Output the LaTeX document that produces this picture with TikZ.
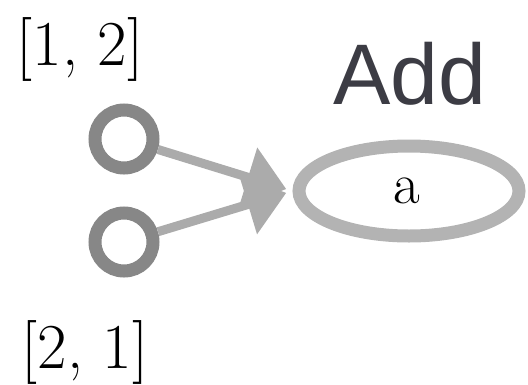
\documentclass[tikz,border=0pt]{standalone}
\usepackage{fontspec}
\newfontfamily\addfont{Liberation Sans}
\usetikzlibrary{shapes.geometric,arrows.meta}
\definecolor{ringgray}{HTML}{878787}
\definecolor{edgegray}{HTML}{ABABAB}
\definecolor{ellgray}{HTML}{B3B3B3}
\definecolor{labeldark}{HTML}{3C3C44}
\tikzset{
  inport/.style={circle, draw=ringgray, line width=13pt, minimum size=58pt, inner sep=0pt},
  opnode/.style={ellipse, draw=ellgray, line width=13pt, minimum width=220pt, minimum height=90pt, inner sep=0pt},
  flow/.style={draw=edgegray, line width=9pt, -{Triangle[length=40pt,width=60pt]}, shorten >=6.5pt},
  vallabel/.style={font=\fontsize{64}{64}\selectfont, inner sep=0pt, anchor=base},
  oplabel/.style={font=\addfont\fontsize{86}{86}\selectfont, text=labeldark, inner sep=0pt, anchor=base}
}
\begin{document}
\begin{tikzpicture}[x=1pt,y=-1pt]
\useasboundingbox (0,0) rectangle (528,384);
\node[inport] (in1) at (124,139) {};
\node[inport] (in2) at (124,242) {};
\node[opnode] (add) at (409,191) {};
\node[font=\fontsize{58}{58}\selectfont, inner sep=0pt, anchor=base] (atext) at (407,203) {a};
\node[oplabel] (addlabel) at (410,104) {Add};
\node[vallabel] (v1) at (80,65) {[1, 2]};
\node[vallabel] (v2) at (85,368) {[2, 1]};
\draw[flow] (in1) -- (add.west);
\draw[flow] (in2) -- (add.west);
\end{tikzpicture}
\end{document}
